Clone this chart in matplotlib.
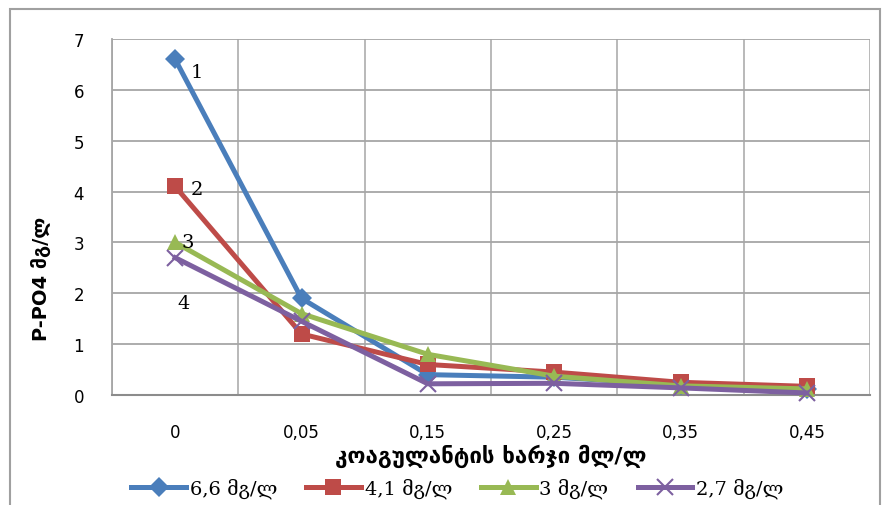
import matplotlib
matplotlib.use('Agg')
import matplotlib.pyplot as plt
from matplotlib.patches import Rectangle

# data
doses = ["0", "0,05", "0,15", "0,25", "0,35", "0,45"]
s1 = [6.6, 1.9, 0.4, 0.35, 0.2, 0.12]
s2 = [4.1, 1.2, 0.6, 0.45, 0.25, 0.17]
s3 = [3.0, 1.6, 0.8, 0.37, 0.18, 0.12]
s4 = [2.7, 1.45, 0.22, 0.23, 0.14, 0.04]
names = ["6,6 მგ/ლ", "4,1 მგ/ლ", "3 მგ/ლ", "2,7 მგ/ლ"]
colors = ["#4A7EBB", "#BE4B48", "#98B954", "#7D60A0"]
markers = ["D", "s", "^", "x"]
curve_ids = ["1", "2", "3", "4"]

fig = plt.figure(figsize=(8.88, 5.06), dpi=100)
ax = fig.add_axes([112/888, 1 - 396/506, 758/888, 356/506])

x = list(range(len(doses)))
sizes = {"D": 10, "s": 11, "^": 11, "x": 11}
for ys, c, m, name in zip([s1, s2, s3, s4], colors, markers, names):
    ax.plot(x, ys, color=c, lw=3.6, marker=m, ms=sizes[m], mew=1.5 if m == "x" else 0,
            mfc=c, mec=c, label=name, clip_on=False, zorder=3)

# curve numbers near the first points
serif = ["DejaVu Serif", "DejaVu Sans"]
offsets = [(0.12, -0.25), (0.12, -0.05), (0.05, 0.0), (0.02, -0.9)]
for ys, lab, (dx, dy) in zip([s1, s2, s3, s4], curve_ids, offsets):
    ax.text(x[0] + dx, ys[0] + dy, lab, fontsize=14, family=serif, va="center", zorder=4)

ax.set_xlim(-0.5, 5.5)
ax.set_ylim(0, 7)
ax.set_yticks(range(8))
ax.set_xticks(x)
ax.set_xticklabels(doses)
ax.set_xticks([i - 0.5 for i in range(7)] + x, minor=True)
ax.grid(True, which="minor", axis="x", color="#B3B3B3", lw=1.3)
ax.grid(True, which="major", axis="y", color="#A6A6A6", lw=1.3)
ax.set_axisbelow(True)
ax.tick_params(which="both", length=0)
ax.tick_params(axis="x", pad=20, labelsize=12)
ax.tick_params(axis="y", pad=20, labelsize=12)
for s in ["top", "right"]:
    ax.spines[s].set_visible(False)
ax.spines["left"].set_color("#A6A6A6")
ax.spines["bottom"].set_color("#8C8C8C")
ax.spines["left"].set_linewidth(1.3)
ax.spines["bottom"].set_linewidth(1.5)

ax.set_xlabel("კოაგულანტის ხარჯი მლ/ლ", fontsize=16, fontweight="bold")
ax.set_ylabel("P-PO4 მგ/ლ", fontsize=14, fontweight="bold")
ax.xaxis.set_label_coords(0.5, -0.138)
ax.yaxis.set_label_coords(-0.08, 0.33)

leg = fig.legend(loc="center", bbox_to_anchor=(0.515, 1 - 489/506), ncol=4, frameon=False,
                 prop={"family": serif, "size": 14}, handlelength=2.8,
                 handletextpad=0.2, columnspacing=1.5, borderaxespad=0)

# outer chart border
fig.patches.append(Rectangle((10/888, -0.05), 870/888, 1 - 10/506 + 0.05,
                             transform=fig.transFigure, fill=False,
                             edgecolor="#A0A0A0", lw=1.5))

fig.savefig("out.png", dpi=100)
